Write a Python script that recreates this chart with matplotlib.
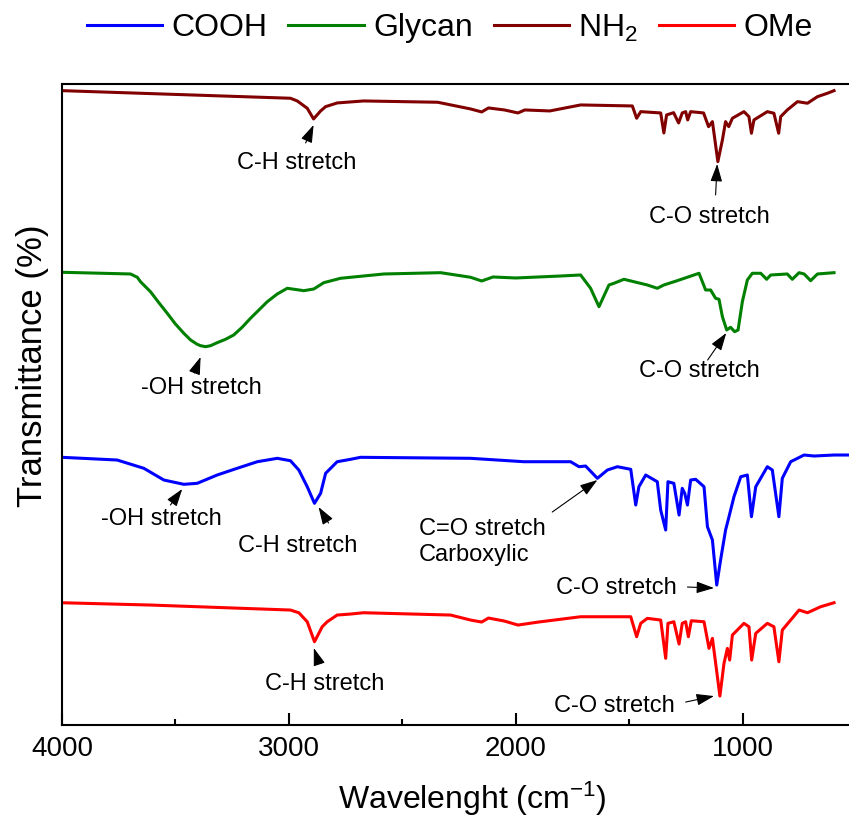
import matplotlib.pyplot as plt
from matplotlib.ticker import MultipleLocator

plt.rcParams['font.family'] = ['Liberation Sans', 'DejaVu Sans']
plt.rcParams['mathtext.fontset'] = 'custom'
plt.rcParams['mathtext.rm'] = 'Liberation Sans'
plt.rcParams['mathtext.it'] = 'Liberation Sans:italic'
plt.rcParams['mathtext.bf'] = 'Liberation Sans:bold'

# FTIR spectra, wavenumber (cm-1) vs stacked transmittance (arbitrary offset units)
nh2_wn = [4000, 2993, 2963, 2919, 2891, 2860, 2838, 2787, 2671, 2344, 2199, 2150, 2120,
          2050, 1990, 1960, 1850, 1714, 1486, 1467, 1449, 1361, 1347, 1335, 1304, 1282,
          1266, 1251, 1242, 1229, 1172, 1150, 1133, 1109, 1089, 1075, 1061, 1045, 994,
          972, 961, 950, 891, 862, 841, 832, 803, 758, 714, 670, 626, 597]
nh2_t = [634.3, 626.7, 624, 616.7, 606, 614, 618.3, 622, 624, 622.7, 616, 613, 617,
         615, 612, 615, 614, 620, 619, 606.7, 613.3, 612, 592, 610, 612.3, 602,
         612, 613.3, 605, 613.3, 612, 598.3, 603.3, 563.3, 585, 603.3, 598.3, 606.7, 613.3,
         608.3, 591.7, 605, 613.3, 611.7, 591.7, 608.3, 615, 623.3, 621.7, 628.3, 631.7, 634.3]

glycan_wn = [4000, 3698, 3668, 3654, 3610, 3573, 3536, 3500, 3463, 3433, 3404, 3389, 3367,
             3345, 3316, 3279, 3243, 3206, 3169, 3132, 3095, 3051, 3007,
             2934, 2890, 2846, 2772, 2581, 2331, 2199, 2150, 2100, 2000, 1800, 1714, 1670,
             1633, 1589, 1567, 1523, 1420, 1376, 1347, 1288, 1192, 1163, 1141, 1119, 1104,
             1089, 1070, 1053, 1035, 1020, 1001, 979, 957, 920, 894, 876, 803, 781, 751,
             729, 700, 670, 597]
glycan_t = [452.7, 451, 447.7, 443.3, 433.3, 422.3, 411.7, 401, 391.7, 385, 380.7, 379.3, 378.3,
            379.3, 382.3, 385.7, 390, 397.7, 406.7, 415, 423.3, 431, 436.7,
            434.3, 436, 442.3, 446.7, 451, 452.3, 447.7, 444, 448, 447, 449, 450, 436.7,
            418.3, 440, 441.7, 445.7, 440, 436.7, 440, 444.3, 451.7, 435, 435, 426.7, 425.7,
            408.3, 395, 397.7, 393.3, 395, 423.3, 445, 451.7, 451.7, 445.7, 450, 451, 445.7, 452.3,
            451, 444.3, 451, 452.3]

cooh_wn = [4000, 3757, 3639, 3551, 3463, 3404, 3316, 3228, 3139, 3051, 2993, 2956, 2919,
           2887, 2860, 2838, 2787, 2728, 2684, 2199, 1964, 1758, 1721, 1692, 1640, 1596,
           1552, 1493, 1471, 1457, 1427, 1376, 1361, 1339, 1329, 1303, 1280, 1266, 1255,
           1243, 1229, 1207, 1170, 1155, 1133, 1114, 1097, 1075, 1060, 1038, 1008, 979,
           961, 942, 891, 869, 840, 825, 788, 729, 685, 597, 528]
cooh_t = [267.7, 265, 256.7, 245, 240.7, 241.7, 250, 256.7, 263.3, 266.7, 264.3, 255, 238.3,
          221.7, 231.7, 251.7, 263.3, 265.7, 267.7, 266.7, 263.3, 263.3, 258.3, 259, 246.7, 255,
          258.3, 255.7, 220, 238.3, 250, 243.3, 215, 195, 243.3, 241.7, 210, 236.7, 231.7,
          220, 245, 245.7, 238.3, 198.3, 185, 140, 165, 195, 208.3, 228.3, 248.3, 250,
          208.3, 238.3, 258.3, 255, 208.3, 246.7, 263.3, 270, 269, 270, 270]

ome_wn = [4000, 3610, 2993, 2956, 2919, 2887, 2853, 2831, 2787, 2728, 2671, 2287, 2199,
          2150, 2120, 2050, 1990, 1900, 1714, 1493, 1467, 1449, 1420, 1361, 1339, 1329,
          1303, 1280, 1266, 1251, 1239, 1226, 1170, 1148, 1133, 1100, 1082, 1067, 1057,
          1045, 994, 972, 960, 942, 891, 862, 840, 825, 788, 751, 714, 656, 597]
ome_t = [122.3, 120, 115, 112.3, 103.3, 83.3, 98.3, 103.3, 110, 111, 112.3, 110, 105,
         103, 107, 104, 100, 103, 108.3, 108.3, 88.3, 101.7, 106.7, 105, 66.7, 101.7,
         103.3, 81, 101.7, 103.3, 88.3, 104.3, 103.3, 76.7, 86.7, 29, 61.7, 76.7, 65,
         90, 101.7, 98.3, 65, 91.7, 101.7, 98.3, 63.3, 95, 105, 115, 112.3, 118.3, 122.3]

# (label, text x, text y, arrow tail, arrow tip)
notes = [
    ("C-H stretch", 2966, 562, (2926, 582), (2891, 600)),
    ("C-O stretch", 1145, 508, (1119, 530), (1112, 561)),
    ("-OH stretch", 3385, 337, (3416, 352), (3389, 368)),
    ("C-O stretch", 1189, 354, (1154, 365), (1072, 392)),
    ("-OH stretch", 3561, 206, (3522, 220), (3470, 236)),
    ("C-H stretch", 2962, 179, (2825, 202), (2869, 218)),
    ("C-O stretch", 1555, 137, (1243, 138), (1126, 137)),
    ("C-H stretch", 2843, 41, (2868, 62), (2890, 77)),
    ("C-O stretch", 1564, 19, (1251, 23), (1126, 29)),
]

fig = plt.figure(figsize=(8.49, 8.23), dpi=100)
ax = fig.add_axes([0.073, 0.119, 0.962, 0.779])

ax.plot(cooh_wn, cooh_t, color='#0000ff', lw=2.2, label='COOH')
ax.plot(glycan_wn, glycan_t, color='#008000', lw=2.2, label='Glycan')
ax.plot(nh2_wn, nh2_t, color='#800000', lw=2.2, label='NH$_2$')
ax.plot(ome_wn, ome_t, color='#ff0000', lw=2.2, label='OMe')

arrow = dict(arrowstyle='-|>,head_length=0.9,head_width=0.3', color='black',
             lw=0.8, shrinkA=0, shrinkB=0, mutation_scale=12)
for label, tx, ty, tail, tip in notes:
    ax.text(tx, ty, label, fontsize=17, ha='center', va='center')
    ax.annotate('', xy=tip, xytext=tail, arrowprops=arrow)

ax.text(2428, 183, "C=O stretch\nCarboxylic", fontsize=17, ha='left', va='center',
        linespacing=1.25)
ax.annotate('', xy=(1640, 245), xytext=(1839, 213), arrowprops=arrow)

ax.set_xlim(4000, 400)
ax.set_ylim(0, 641)
ax.xaxis.set_major_locator(MultipleLocator(1000))
ax.xaxis.set_minor_locator(MultipleLocator(500))
ax.tick_params(axis='x', which='major', direction='in', length=8.5, width=1.5,
               labelsize=20, pad=8)
ax.tick_params(axis='x', which='minor', direction='in', length=4.5, width=1.5)
ax.set_yticks([])
for side in ['left', 'bottom', 'top']:
    ax.spines[side].set_linewidth(1.5)
ax.spines['right'].set_visible(False)

ax.set_xlabel('Wavelenght (cm$^{-1}$)', fontsize=23)
ax.xaxis.set_label_coords(0.502, -0.085)
ax.set_ylabel('Transmittance (%)', fontsize=25)
ax.yaxis.set_label_coords(-0.016, 0.56)

fig.legend(loc='center', bbox_to_anchor=(0.53, 0.966), ncol=4, frameon=False,
           fontsize=23, handlelength=2.35, handletextpad=0.3, columnspacing=0.65)

fig.savefig('out.png', dpi=100)
